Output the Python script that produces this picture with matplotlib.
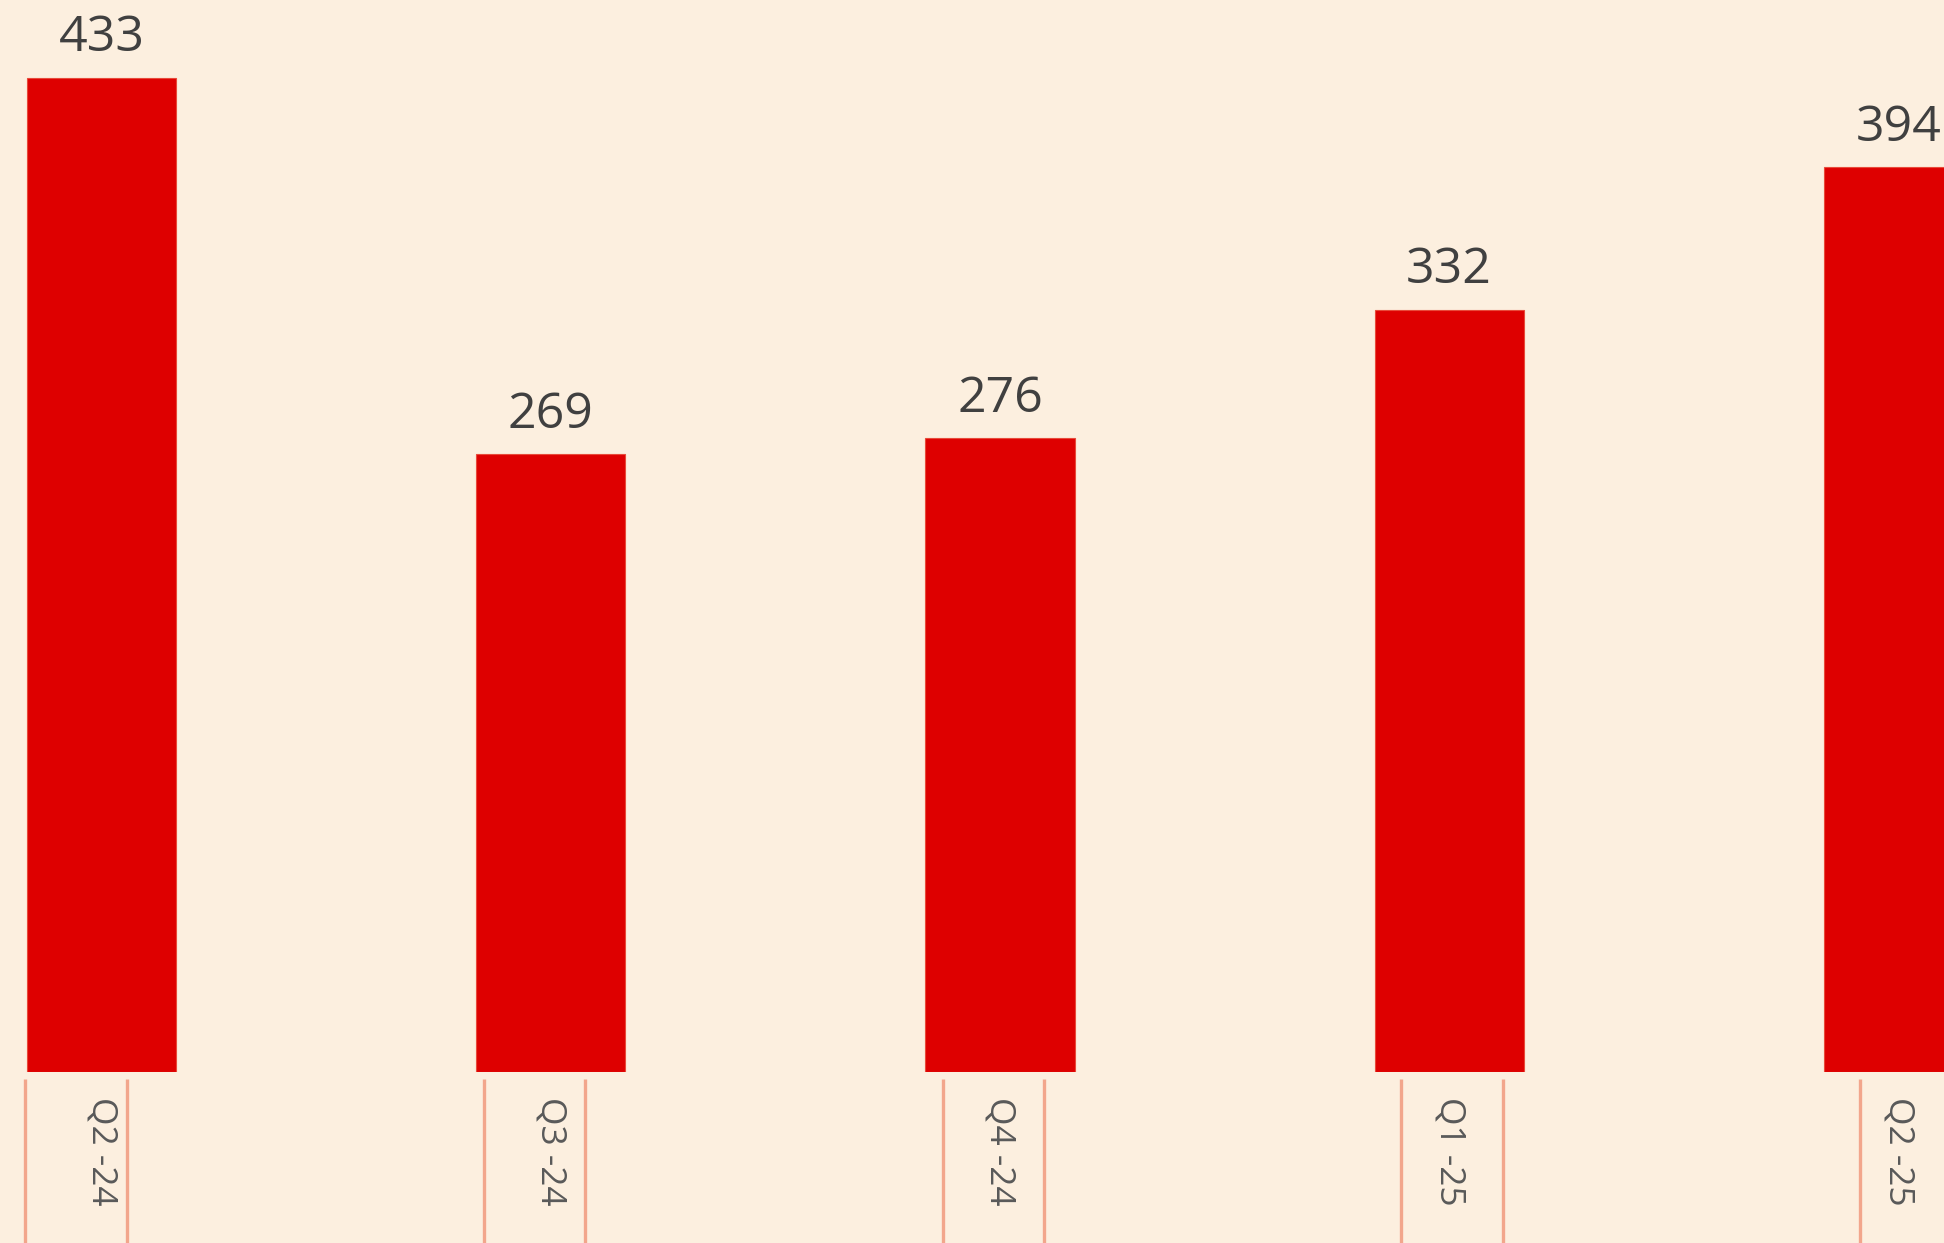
import matplotlib as mpl
mpl.use('Agg')

import matplotlib.pyplot as plt

BG_COLOR = '#fcefdf'
BAR_COLOR = '#de0000'
TICK_COLOR = '#f2a68c'

quarters = ['Q2 -24', 'Q3 -24', 'Q4 -24', 'Q1 -25', 'Q2 -25']
values = [433, 269, 276, 332, 394]

plt.rcParams['font.family'] = ['Open Sans', 'DejaVu Sans']

fig = plt.figure(figsize=(19.44, 12.43), dpi=100, facecolor=BG_COLOR)
ax = fig.add_axes([0.0, 171 / 1243, 1.0, 1072 / 1243])
ax.set_facecolor(BG_COLOR)

x = list(range(len(values)))
bars = ax.bar(x, values, width=0.332, color=BAR_COLOR, edgecolor='#e84a3a',
              linewidth=0.8, clip_on=True)

for rect, v in zip(bars, values):
    ax.annotate(str(v), (rect.get_x() + rect.get_width() / 2, v),
                xytext=(0, 19), textcoords='offset points',
                ha='center', va='baseline', fontsize=36, color='#404040',
                annotation_clip=False)

ax.set_xlim(-0.2265, 4.102)
ax.set_ylim(0, 466.9)

ax.set_xticks(x)
ax.set_xticklabels(quarters, rotation=-90, fontsize=25.5, color='#595959')
ax.tick_params(axis='x', length=0, pad=18)
ax.tick_params(axis='y', left=False, labelleft=False)
for s in ax.spines.values():
    s.set_visible(False)

# framing lines around each category label
for i in range(len(quarters)):
    left = -0.171 + i * 1.0216
    for lx in (left, left + 0.2265):
        ax.plot([lx, lx], [-3.0, -80.0], color=TICK_COLOR, lw=2.4,
                clip_on=False, solid_capstyle='butt')

fig.savefig('out.png', dpi=100, facecolor=BG_COLOR)
